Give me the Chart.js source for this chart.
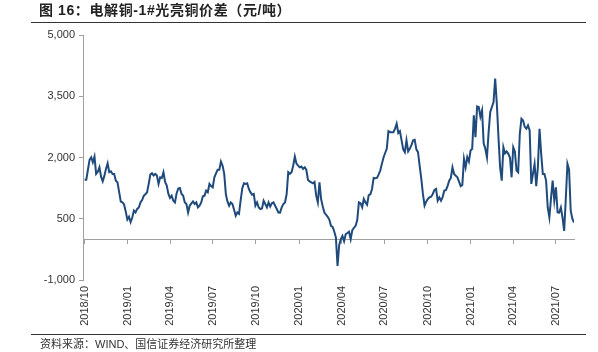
<!DOCTYPE html>
<html>
<head>
<meta charset="utf-8">
<script src="https://cdn.jsdelivr.net/npm/chart.js@4"></script>
<style>
  html, body { margin: 0; padding: 0; background: #fff; }
  #wrap { position: relative; width: 598px; height: 352px; overflow: hidden; }
  #c { position: absolute; left: 0; top: 0; }
  .title { position: absolute; left: 39px; top: 1px; font-family: "Liberation Sans", "Noto Sans CJK SC", sans-serif; font-weight: bold; font-size: 14px; letter-spacing: 0.6px; color: #222; white-space: nowrap; line-height: 18px; }
  .foot { position: absolute; left: 40px; top: 336px; font-family: "Liberation Sans", "Noto Sans CJK SC", sans-serif; font-size: 11px; color: #333; white-space: nowrap; line-height: 16px; }
  .rule { position: absolute; left: 31px; width: 555px; height: 0; border-top: 1px solid #333; }
</style>
</head>
<body>
<div id="wrap">
  <canvas id="c" width="598" height="352"></canvas>
  <div class="title">图 16：电解铜-1#光亮铜价差（元/吨）</div>
  <div class="rule" style="top:22px"></div>
  <div class="rule" style="top:334px"></div>
  <div class="foot">资料来源：WIND、国信证券经济研究所整理</div>
</div>
<script>
// Series start date and sampling step (days) of the price spread
const startDate = '2018-10-01';
const stepDays = 3.5;

// 电解铜-1#光亮铜价差 (元/吨), sampled every half week
const spread = [
  1458,1458,1700,1943,2007,1884,2024,1598,1650,1760,
  1530,1416,1550,1721,1859,1640,1663,1598,1598,1430,
  1392,1160,920,900,850,680,480,548,420,531,
  700,654,740,777,900,959,1060,1100,1146,1352,
  1580,1613,1560,1600,1557,1352,1515,1500,1638,1400,
  1311,1107,1008,1065,942,900,1120,1240,1254,1107,
  1065,900,861,654,820,876,925,861,900,777,
  819,900,1050,1065,1188,1150,1352,1300,1269,1515,
  1610,1697,1697,1900,1800,1598,1100,920,819,900,
  861,720,573,654,620,950,1250,1367,1352,1367,
  1230,1146,1090,1107,819,900,777,738,750,942,
  861,777,900,800,880,900,819,738,654,650,
  777,861,900,1100,1638,1600,1638,1800,2024,1850,
  1802,1760,1780,1721,1760,1700,1451,1416,1392,1367,
  1400,1065,900,1392,984,800,654,598,548,480,
  327,300,187,40,-657,-150,0,80,-50,123,
  150,180,0,220,280,327,470,900,880,780,
  984,900,843,1080,1100,1230,1500,1490,1500,1581,
  1680,1844,2000,2110,2220,2646,2620,2621,2620,2700,
  2828,2600,2646,2420,2200,2130,2420,2150,2213,2300,
  2420,2434,2200,2130,1800,1480,1107,820,920,984,
  1023,1040,1107,1205,1230,942,1023,942,1030,1188,
  1200,1300,1434,1500,1760,1598,1550,1515,1410,1300,
  1330,1967,1760,2007,1900,2171,2213,3032,2500,3250,
  3236,3000,3155,2350,2213,2000,2621,3113,3236,3359,
  3934,3320,2500,1760,1434,2253,2100,2150,2090,2000,
  1515,2253,2150,1679,1638,2582,2951,2909,2750,2705,
  2786,2663,1352,1598,1844,1300,1760,2705,2100,1598,
  1598,1434,777,531,1000,1434,942,1269,654,650,
  777,531,204,984,1844,1700,696,500,408
];

// X-axis tick labels (quarter starts)
const tickLabels = ['2018/10','2019/01','2019/04','2019/07','2019/10','2020/01',
                    '2020/04','2020/07','2020/10','2021/01','2021/04','2021/07'];

// Y-axis ticks
const yTicks = [-1000, 500, 2000, 3500, 5000];

const t0 = Date.parse(startDate + 'T00:00:00Z');
const tickPos = tickLabels.map(l => {
  const [y, m] = l.split('/').map(Number);
  return (Date.UTC(y, m - 1, 1) - t0) / 86400000 / stepDays;
});

const points = spread.map((v, i) => ({ x: i, y: v }));
const xMin = -1, xMax = spread.length - 1;
const gray = '#a0a0a0';
const font = { family: '"Liberation Sans", Arial, sans-serif', size: 11 };

new Chart(document.getElementById('c'), {
  type: 'line',
  data: {
    datasets: [{
      data: points,
      borderColor: '#1f4a7c',
      borderWidth: 2,
      pointRadius: 0,
      tension: 0,
      fill: false
    }]
  },
  options: {
    responsive: false,
    animation: false,
    devicePixelRatio: 1,
    layout: { padding: { left: 0, right: 24, top: 35, bottom: 0 } },
    plugins: { legend: { display: false }, tooltip: { enabled: false } },
    scales: {
      x: {
        type: 'linear',
        position: 'bottom',
        min: xMin, max: xMax,
        afterBuildTicks: s => { s.ticks = tickPos.map(v => ({ value: v })); },
        afterFit: s => { s.height = 72; },
        grid: { display: false, drawTicks: false },
        border: { display: false },
        ticks: {
          autoSkip: false,
          minRotation: 90, maxRotation: 90,
          padding: 6,
          color: '#333',
          font: font,
          callback: (v, i) => tickLabels[i]
        }
      },
      x2: {
        type: 'linear',
        axis: 'x',
        position: { y: 0 },
        min: xMin, max: xMax,
        afterBuildTicks: s => { s.ticks = tickPos.map(v => ({ value: v })); },
        grid: { display: true, drawOnChartArea: false, drawTicks: true, tickLength: 4, color: gray },
        border: { display: true, color: gray, width: 1 },
        ticks: { display: false }
      },
      y: {
        min: -1000, max: 5000,
        afterBuildTicks: s => { s.ticks = yTicks.map(v => ({ value: v })); },
        afterFit: s => { s.width = 83; },
        grid: { display: true, drawOnChartArea: false, drawTicks: true, tickLength: 4, color: gray },
        border: { display: true, color: gray, width: 1 },
        ticks: {
          padding: 4,
          color: '#333',
          font: font,
          callback: v => v.toLocaleString('en-US')
        }
      }
    }
  }
});
</script>
</body>
</html>
